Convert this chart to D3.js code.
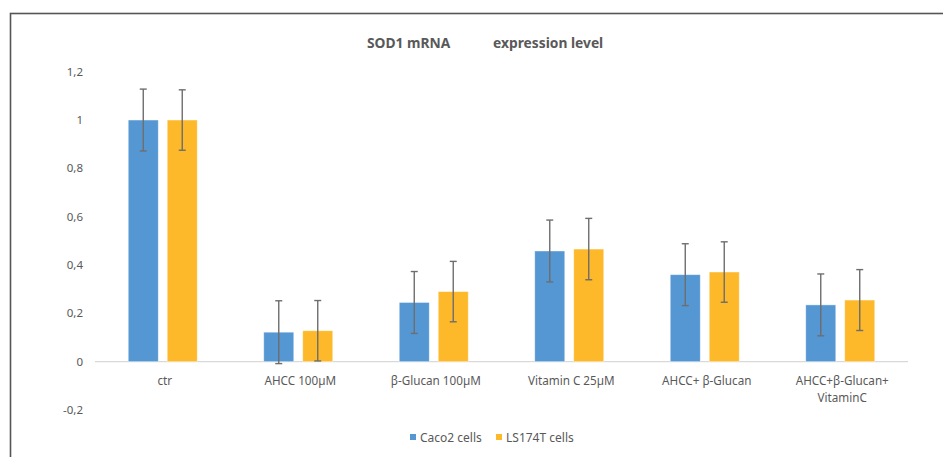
<!DOCTYPE html>
<html lang="en">
<head>
    <meta charset="UTF-8">
    <title>SOD1 mRNA expression level</title>
    <script src="https://d3js.org/d3.v7.min.js"></script>
    <style>
        body {
            margin: 0;
            background: #fff;
            font-family: "Noto Sans", Arial, sans-serif;
        }
        #chart text {
            fill: #595959;
        }
        .tick-label {
            font-size: 11.5px;
        }
        .cat-label {
            font-size: 11.7px;
        }
        .title {
            font-size: 13.8px;
            font-weight: bold;
        }
        .legend-label {
            font-size: 12px;
        }
        .err {
            stroke: #6e6e6e;
            stroke-width: 1.4px;
        }
    </style>
</head>
<body>
    <svg id="chart" width="943" height="457"></svg>

    <script>
        // data
        const categories = ["ctr", "AHCC 100µM", "β-Glucan 100µM", "Vitamin C 25µM", "AHCC+ β-Glucan", "AHCC+β-Glucan+\nVitaminC"];
        const series = ["Caco2 cells", "LS174T cells"];
        const caco2 = [1.0, 0.122, 0.245, 0.458, 0.36, 0.235];
        const ls174t = [1.0, 0.128, 0.29, 0.466, 0.371, 0.255];
        const caco2Err = [0.128, 0.13, 0.128, 0.128, 0.128, 0.128];
        const ls174tErr = [0.125, 0.125, 0.125, 0.127, 0.125, 0.126];
        const yTicks = [-0.2, 0, 0.2, 0.4, 0.6, 0.8, 1, 1.2];
        const colors = ["#5597d3", "#fdb92a"];

        const svg = d3.select('#chart');

        // chart frame (runs past the window on the right and bottom)
        svg.append('rect')
            .attr('x', 10.5).attr('y', 13.5)
            .attr('width', 960).attr('height', 480)
            .attr('fill', 'none')
            .attr('stroke', '#555')
            .attr('stroke-width', 1.6);

        const y = d3.scaleLinear().domain([-0.2, 1.2]).range([410, 71.7]);
        const x0 = d3.scaleBand().domain(categories).range([95, 908]);
        const x1 = d3.scaleBand().domain(series)
            .range([x0.bandwidth() / 2 - 34.5, x0.bandwidth() / 2 + 34.5])
            .paddingInner(0.23);

        // y labels (no gridlines)
        svg.append('g').selectAll('text')
            .data(yTicks)
            .enter().append('text')
            .attr('class', 'tick-label')
            .attr('x', 83)
            .attr('y', d => y(d) + 4)
            .attr('text-anchor', 'end')
            .text(d => String(d).replace('.', ','));

        // zero line
        svg.append('line')
            .attr('x1', 95).attr('x2', 908)
            .attr('y1', y(0)).attr('y2', y(0))
            .attr('stroke', '#d9d9d9')
            .attr('stroke-width', 1.2);

        const rows = categories.map((c, i) => ({
            cat: c,
            vals: [
                { s: series[0], v: caco2[i], e: caco2Err[i], c: colors[0] },
                { s: series[1], v: ls174t[i], e: ls174tErr[i], c: colors[1] }
            ]
        }));

        const groups = svg.append('g').selectAll('g')
            .data(rows)
            .enter().append('g')
            .attr('transform', d => `translate(${x0(d.cat)},0)`);

        groups.selectAll('rect')
            .data(d => d.vals)
            .enter().append('rect')
            .attr('x', d => x1(d.s))
            .attr('width', x1.bandwidth())
            .attr('y', d => y(d.v))
            .attr('height', d => y(0) - y(d.v))
            .attr('fill', d => d.c)
            .attr('stroke', '#ffffff')
            .attr('stroke-opacity', 0.5)
            .attr('stroke-width', 0.8);

        // error bars
        const cap = 3.5;
        const eb = groups.selectAll('g.eb')
            .data(d => d.vals)
            .enter().append('g')
            .attr('class', 'eb');

        eb.append('line')
            .attr('class', 'err')
            .attr('x1', d => x1(d.s) + x1.bandwidth() / 2)
            .attr('x2', d => x1(d.s) + x1.bandwidth() / 2)
            .attr('y1', d => y(d.v + d.e))
            .attr('y2', d => y(d.v - d.e));
        eb.append('line')
            .attr('class', 'err')
            .attr('x1', d => x1(d.s) + x1.bandwidth() / 2 - cap)
            .attr('x2', d => x1(d.s) + x1.bandwidth() / 2 + cap)
            .attr('y1', d => y(d.v + d.e))
            .attr('y2', d => y(d.v + d.e));
        eb.append('line')
            .attr('class', 'err')
            .attr('x1', d => x1(d.s) + x1.bandwidth() / 2 - cap)
            .attr('x2', d => x1(d.s) + x1.bandwidth() / 2 + cap)
            .attr('y1', d => y(d.v - d.e))
            .attr('y2', d => y(d.v - d.e));

        // category labels
        const cat = svg.append('g').selectAll('text')
            .data(categories)
            .enter().append('text')
            .attr('class', 'cat-label')
            .attr('text-anchor', 'middle')
            .attr('x', d => x0(d) + x0.bandwidth() / 2 + 2)
            .attr('y', 385);
        cat.selectAll('tspan')
            .data(d => d.split('\n'))
            .enter().append('tspan')
            .attr('x', function () { return d3.select(this.parentNode).attr('x'); })
            .attr('dy', (d, i) => i === 0 ? 0 : 17)
            .text(d => d);

        // title
        svg.append('text').attr('class', 'title')
            .attr('x', 367).attr('y', 47.5).text('SOD1 mRNA');
        svg.append('text').attr('class', 'title')
            .attr('x', 493).attr('y', 47.5).text('expression level');

        // legend
        const legendX = [410, 496];
        const leg = svg.append('g').selectAll('g')
            .data(series)
            .enter().append('g')
            .attr('transform', (d, i) => `translate(${legendX[i]},434)`);
        leg.append('rect')
            .attr('width', 6).attr('height', 6)
            .attr('fill', (d, i) => colors[i]);
        leg.append('text')
            .attr('class', 'legend-label')
            .attr('x', 10).attr('y', 7.5)
            .text(d => d);
    </script>
</body>
</html>
